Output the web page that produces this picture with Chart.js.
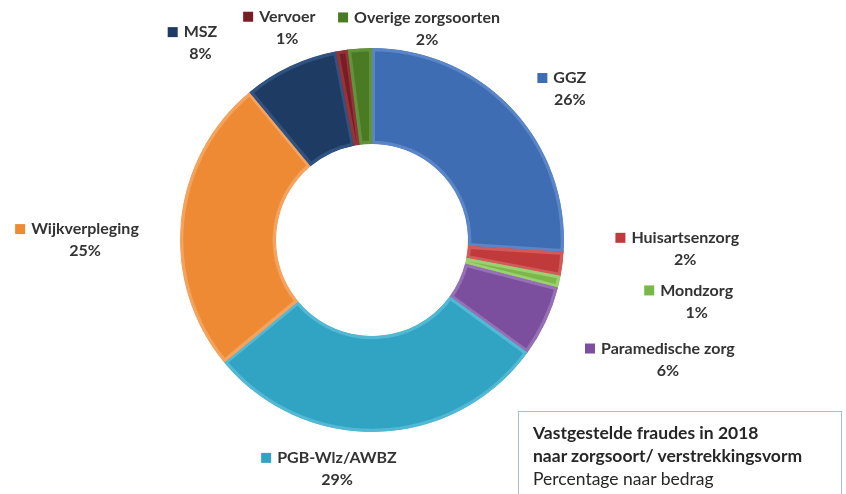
<!DOCTYPE html>
<html>
<head>
<meta charset="utf-8">
<script src="https://cdn.jsdelivr.net/npm/chart.js@4.4.1/dist/chart.umd.min.js"></script>
<style>
  html, body { margin: 0; padding: 0; background: #fff; }
  #wrap { position: relative; width: 846px; height: 494px; }
  #titleBox {
    position: absolute; left: 518px; top: 411px; width: 324px; height: 90px;
    border: 1.5px solid #a9bbd3; box-sizing: border-box; padding: 9px 0 0 14px;
    font-family: Lato, "Open Sans", sans-serif; font-size: 17.5px; line-height: 23px; color: #262626;
  }
  #titleBox b { font-weight: 700; }
</style>
</head>
<body>
<div id="wrap">
  <canvas id="myChart" width="846" height="494"></canvas>
  <div id="titleBox"><b>Vastgestelde fraudes in 2018</b><br><b>naar zorgsoort/ verstrekkingsvorm</b><br>Percentage naar bedrag</div>
</div>
<script>
const categories = ['GGZ', 'Huisartsenzorg', 'Mondzorg', 'Paramedische zorg', 'PGB-Wlz/AWBZ',
                    'Wijkverpleging', 'MSZ', 'Vervoer', 'Overige zorgsoorten'];
const percentages = [26, 2, 1, 6, 29, 25, 8, 1, 2];

const sliceColors = ['#3f6db4', '#c0393b', '#7bb84a', '#7b4f9d', '#31a3c3',
                     '#ee8a33', '#1e3b64', '#7b1c24', '#4b7a24'];
const edgeColors = ['#5a86c8', '#d25a5a', '#9ccf70', '#9670b5', '#52b8d4',
                    '#f4a35e', '#2f5280', '#93343b', '#62933a'];
// nudge of each label away from its default spot outside the ring
const labelNudge = [[36, -10], [93, -30], [108, 2], [95, 14], [-42, -4],
                    [-66, 10], [-77, -7], [-50, -4], [69, -1]];

const ctx = document.getElementById('myChart');

const outsideLabels = {
  id: 'outsideLabels',
  afterDraw(chart) {
    const c = chart.ctx;
    const meta = chart.getDatasetMeta(0);
    c.save();
    c.font = 'bold 16px Lato, "Open Sans", sans-serif';
    c.textBaseline = 'middle';
    meta.data.forEach((arc, i) => {
      const p = arc.getProps(['x', 'y', 'startAngle', 'endAngle', 'outerRadius'], true);
      const mid = (p.startAngle + p.endAngle) / 2;
      const r = p.outerRadius + 30;
      const ax = p.x + Math.cos(mid) * r + labelNudge[i][0];
      const ay = p.y + Math.sin(mid) * r + labelNudge[i][1];
      const name = categories[i];
      const w = c.measureText(name).width;
      c.textAlign = 'center';
      c.fillStyle = '#333';
      c.fillText(name, ax, ay);
      c.fillText(percentages[i] + '%', ax, ay + 22);
      c.fillStyle = sliceColors[i];
      c.fillRect(ax - w / 2 - 16, ay - 5, 10, 10);
    });
    c.restore();
  }
};

const myChart = new Chart(ctx, {
  type: 'doughnut',
  data: {
    labels: categories,
    datasets: [{
      data: percentages,
      backgroundColor: sliceColors,
      borderColor: edgeColors,
      borderWidth: 3,
      borderAlign: 'inner'
    }]
  },
  options: {
    responsive: false,
    animation: false,
    cutout: '50%',
    layout: { padding: { left: 180, right: 282, top: 48, bottom: 62 } },
    plugins: {
      legend: { display: false },
      tooltip: { enabled: false }
    }
  },
  plugins: [outsideLabels]
});
</script>
</body>
</html>
